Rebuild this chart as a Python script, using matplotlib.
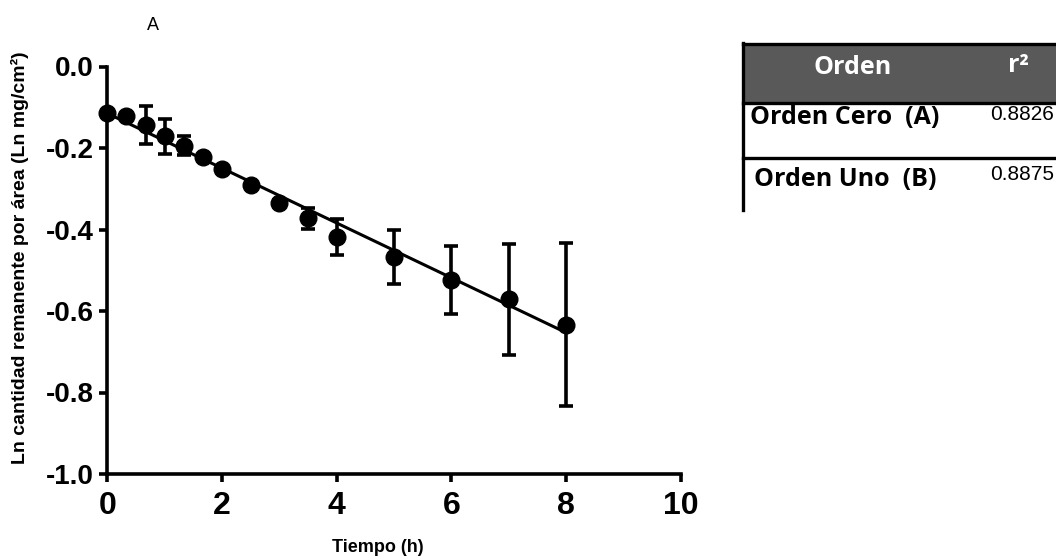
import matplotlib.pyplot as plt
from matplotlib.patches import Rectangle
from matplotlib.lines import Line2D

plt.rcParams['axes.unicode_minus'] = False

# Ln of remaining amount per area vs time (mean +/- error)
tiempo = [0, 0.33, 0.67, 1, 1.33, 1.67, 2, 2.5, 3, 3.5, 4, 5, 6, 7, 8]
ln_cantidad = [-0.113, -0.121, -0.144, -0.171, -0.194, -0.223, -0.252,
               -0.291, -0.334, -0.373, -0.419, -0.467, -0.524, -0.571, -0.634]
error = [0.004, 0.004, 0.046, 0.043, 0.024, 0.005, 0.005,
         0.005, 0.006, 0.026, 0.044, 0.067, 0.083, 0.136, 0.200]

# fitted line end points
ajuste_x = [0, 8]
ajuste_y = [-0.115, -0.653]

xticks = [0, 2, 4, 6, 8, 10]
yticks = [-1.0, -0.8, -0.6, -0.4, -0.2, 0.0]

# r^2 table
tabla_cabecera = ['Orden', 'r²']
tabla_orden = ['Orden Cero  (A)', 'Orden Uno  (B)']
tabla_r2 = [0.8826, 0.8875]

W, H = 1056, 560
fig = plt.figure(figsize=(W / 100, H / 100), dpi=100)
ax = fig.add_axes([107.3 / W, 1 - 474 / H, (680.7 - 107.3) / W, (474 - 66.5) / H])

ax.plot(ajuste_x, ajuste_y, color='black', lw=2.2, clip_on=False, zorder=2)
ax.errorbar(tiempo, ln_cantidad, yerr=error, fmt='o', color='black', ms=12,
            elinewidth=2.6, capsize=5, capthick=2.6, clip_on=False, zorder=3)

ax.set_xlim(0, 10)
ax.set_ylim(-1.0, 0.0)
ax.set_xticks(xticks)
ax.set_yticks(yticks)
ax.set_yticklabels(['%.1f' % v for v in yticks])
for s in ['top', 'right']:
    ax.spines[s].set_visible(False)
for s in ['left', 'bottom']:
    ax.spines[s].set_linewidth(2.6)
ax.tick_params(width=2.6, length=6)
ax.tick_params(axis='y', pad=4)
ax.tick_params(axis='x', pad=6)
for t in ax.get_yticklabels():
    t.set_fontfamily(['Liberation Sans', 'DejaVu Sans'])
    t.set_fontweight('bold')
    t.set_fontsize(20)
for t in ax.get_xticklabels():
    t.set_fontfamily(['Liberation Sans Narrow', 'Liberation Sans'])
    t.set_fontweight('bold')
    t.set_fontsize(23)

fig.text(20 / W, 1 - 258 / H, 'Ln cantidad remanente por área (Ln mg/cm²)',
         rotation=90, ha='center', va='center', fontsize=14, fontweight='bold',
         family=['Liberation Sans', 'DejaVu Sans'])
fig.text(378 / W, 1 - 548 / H, 'Tiempo (h)', ha='center', va='center',
         fontsize=13, fontweight='bold', family=['Liberation Sans', 'DejaVu Sans'])
fig.text(153 / W, 1 - 25 / H, 'A', ha='center', va='center', fontsize=13,
         family=['Liberation Sans', 'DejaVu Sans'])

# table drawn in pixel coordinates on an overlay
ov = fig.add_axes([0, 0, 1, 1])
ov.set_xlim(0, W)
ov.set_ylim(H, 0)
ov.axis('off')
ov.add_patch(Rectangle((743, 44), W - 743, 59, facecolor='#595959', edgecolor='none'))
for y in [44, 103, 158]:
    ov.add_line(Line2D([743, W], [y, y], color='black', lw=2.4))
ov.add_line(Line2D([743, 743], [43, 210], color='black', lw=2.4))

tfont = ['Open Sans', 'DejaVu Sans']
ov.text(853, 67, tabla_cabecera[0], ha='center', va='center', color='white',
        fontsize=18, fontweight='bold', family=tfont)
ov.text(1018, 66, tabla_cabecera[1], ha='center', va='center', color='white',
        fontsize=18, fontweight='bold', family=tfont)
for i, (nombre, r2) in enumerate(zip(tabla_orden, tabla_r2)):
    yc = 118 + i * 61
    ov.text(845, yc, nombre, ha='center', va='center', color='black',
            fontsize=18, fontweight='bold', family=tfont)
    ov.text(1054, yc - 4, '%.4f' % r2, ha='right', va='center', color='black',
            fontsize=15, family=['Liberation Sans', 'DejaVu Sans'])

fig.savefig('out.png', dpi=100)
